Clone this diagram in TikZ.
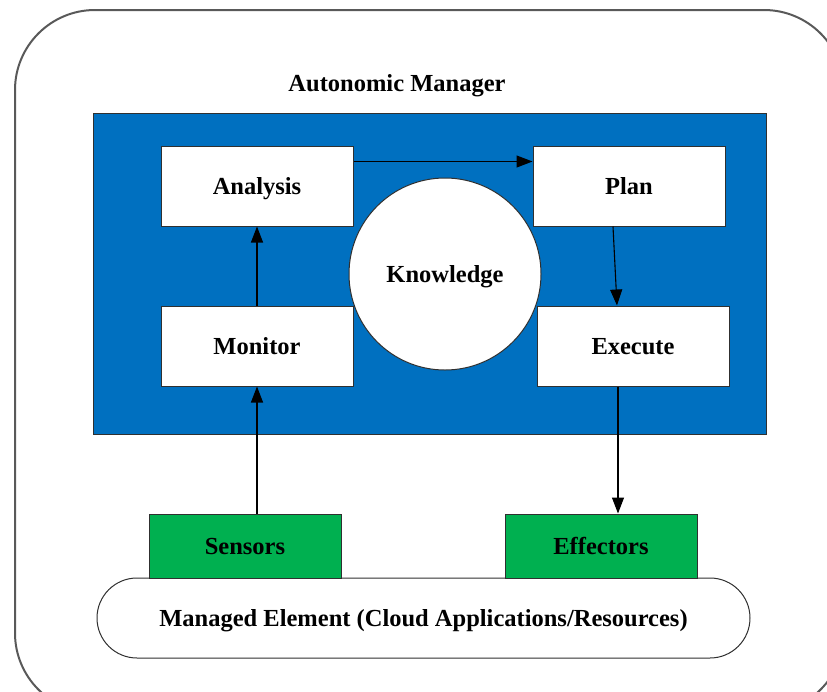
\documentclass[tikz,border=0pt]{standalone}
\usepackage{fontspec}
\setmainfont{Liberation Serif}
\usetikzlibrary{arrows.meta}
\definecolor{amblue}{HTML}{0070C0}
\definecolor{megreen}{HTML}{00B050}
\definecolor{edge}{HTML}{303030}
\begin{document}
\begin{tikzpicture}[x=1pt,y=-1pt,
  lbl/.style={font=\fontsize{24.5}{29}\selectfont\bfseries,text depth=0pt},
  stage/.style={lbl,draw=edge,line width=1pt,fill=white,minimum width=192pt,minimum height=80pt,inner sep=0pt},
  port/.style={lbl,draw=edge,line width=1pt,fill=megreen,minimum width=192pt,minimum height=64pt,inner sep=0pt},
  arr/.style={line width=1.1pt,-{Triangle[length=16pt,width=12pt]}}]
\useasboundingbox (0,0) rectangle (827,691);
\clip (0,0) rectangle (827,691);
% outer frame
\draw[line width=2pt,draw=black!65,rounded corners=80pt] (15,10) rectangle (844,713);
% autonomic manager panel
\node[lbl] (title) at (397,83) {Autonomic Manager};
\node[draw=edge,line width=1pt,fill=amblue,minimum width=673pt,minimum height=321pt,inner sep=0pt] (panel) at (429.5,273.5) {};
% MAPE-K loop
\node[stage] (analysis) at (257,186) {Analysis};
\node[stage] (plan) at (629,186) {Plan};
\node[stage] (monitor) at (257,346) {Monitor};
\node[stage] (execute) at (633,346) {Execute};
\node[lbl,draw=edge,line width=1pt,fill=white,circle,minimum size=192pt,inner sep=0pt] (knowledge) at (445,274) {Knowledge};
% managed element with sensors and effectors
\node[lbl,draw=edge,line width=1pt,fill=white,minimum width=653pt,minimum height=80pt,rounded corners=40pt,inner sep=0pt] (managed) at (423.5,618) {Managed Element (Cloud Applications/Resources)};
\node[port] (sensors) at (245,546) {Sensors};
\node[port] (effectors) at (601,546) {Effectors};
% connectors
\draw[arr] ([yshift=-16pt]analysis.north east) -- ([yshift=-16pt]plan.north west);
\draw[arr] (monitor.north) -- (analysis.south);
\draw[arr] ([xshift=-16pt]plan.south) -- ([xshift=-16pt]execute.north);
\draw[arr] ([xshift=-15pt]execute.south) -- ([xshift=-15pt]execute.south |- effectors.north);
\draw[arr] (monitor.south |- sensors.north) -- (monitor.south);
\end{tikzpicture}
\end{document}
